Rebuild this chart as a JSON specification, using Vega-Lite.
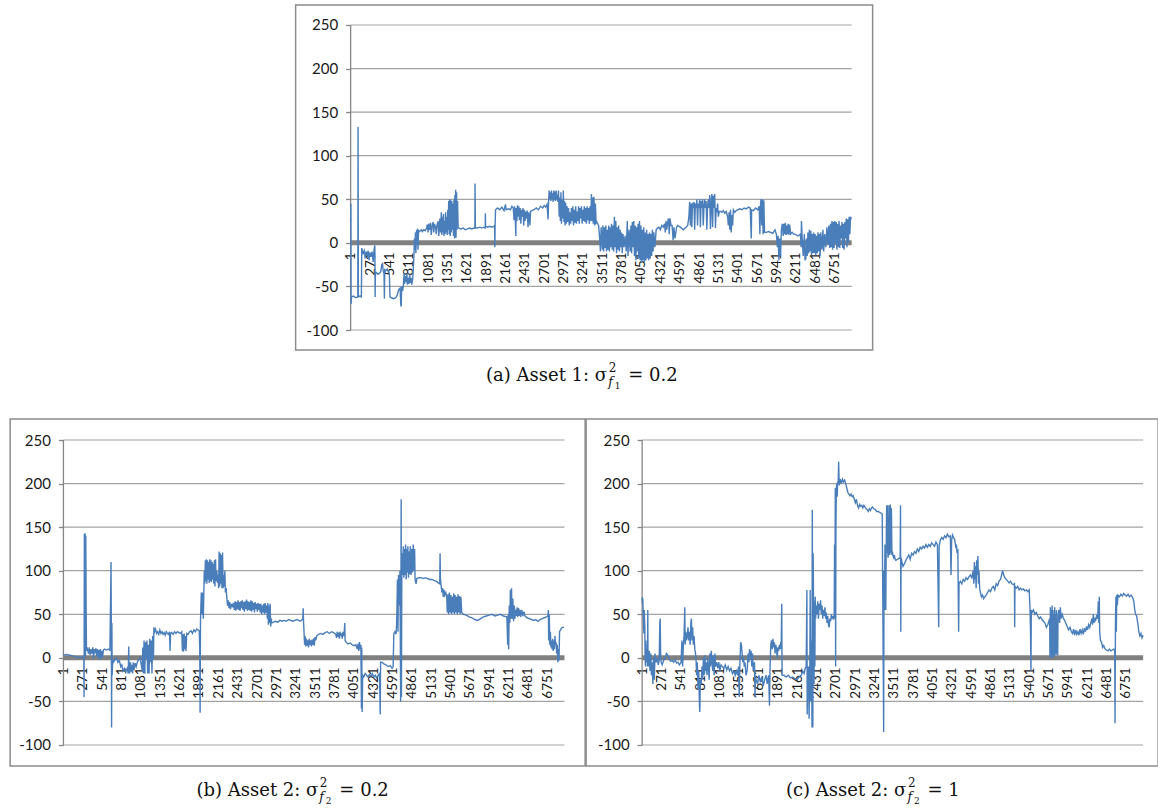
{
"$schema": "https://vega.github.io/schema/vega-lite/v6.json",
"background": "#ffffff",
"padding": {"left": 9, "top": 4, "right": 0, "bottom": 0},
"config": {"view": {"stroke": "#8c8c8c", "strokeWidth": 1.5}, "axis": {"labelOverlap": false, "labelFlush": false, "labelBound": false}},
"spacing": 25,
"center": true,
"datasets": {
"grid": [{"g":-100},{"g":-50},{"g":0},{"g":50},{"g":100},{"g":150},{"g":200},{"g":250}],
"cap": [
{"panel":"a","lhs":"(a) Asset 1: σ","sup":"2","sub":"f","ss":"1","rhs":"= 0.2"},
{"panel":"b","lhs":"(b) Asset 2: σ","sup":"2","sub":"f","ss":"2","rhs":"= 0.2"},
{"panel":"c","lhs":"(c) Asset 2: σ","sup":"2","sub":"f","ss":"2","rhs":"= 1"}
],
"a": [
{"x":0,"y":24},{"x":3,"y":45},{"x":6,"y":-70},{"x":12,"y":-62},{"x":40,"y":-61},{"x":70,"y":-63},{"x":100,"y":-62},{"x":104,"y":133},{"x":108,"y":-62},{"x":130,"y":-61},{"x":150,"y":-62},{"x":155,"y":-6},{"x":175,"y":-12},{"x":190,"y":-9},{"x":205,"y":-18},{"x":215,"y":-10},{"x":230,"y":-14},{"x":245,"y":-9},{"x":258,"y":-20},{"x":270,"y":-11},{"x":285,"y":-16},{"x":300,"y":-10},{"x":315,"y":-22},{"x":326,"y":-8},{"x":338,"y":-3},{"x":342,"y":-62},{"x":346,"y":-35},{"x":360,"y":-34},{"x":380,"y":-36},{"x":400,"y":-35},{"x":420,"y":-33},{"x":435,"y":-25},{"x":445,"y":-24},{"x":455,"y":-33},{"x":466,"y":-35},{"x":471,"y":-64},{"x":476,"y":-31},{"x":490,"y":-32},{"x":510,"y":-30},{"x":525,"y":-33},{"x":540,"y":-35},{"x":549,"y":-62},{"x":570,"y":-63},{"x":600,"y":-64},{"x":630,"y":-63},{"x":650,"y":-60},{"x":670,"y":-54},{"x":690,"y":-52},{"x":700,"y":-71},{"x":706,"y":-73},{"x":712,"y":-50},{"x":725,"y":-55},{"x":735,"y":-50},{"x":746,"y":-35},{"x":752,"y":-47},{"x":765,"y":-38},{"x":772,"y":-45},{"x":785,"y":-35},{"x":792,"y":-48},{"x":805,"y":-40},{"x":812,"y":-47},{"x":825,"y":-36},{"x":832,"y":-46},{"x":845,"y":-40},{"x":852,"y":-48},{"x":865,"y":-42},{"x":875,"y":-30},{"x":885,"y":-10},{"x":890,"y":5},{"x":895,"y":-8},{"x":905,"y":12},{"x":910,"y":-12},{"x":920,"y":14},{"x":930,"y":15},{"x":940,"y":-8},{"x":948,"y":14},{"x":960,"y":13},{"x":975,"y":14},{"x":990,"y":15},{"x":1000,"y":13},{"x":1020,"y":15},{"x":1040,"y":14},{"x":1060,"y":17},{"x":1070,"y":21},{"x":1080,"y":12},{"x":1090,"y":22},{"x":1100,"y":15},{"x":1115,"y":23},{"x":1125,"y":9},{"x":1135,"y":18},{"x":1150,"y":24},{"x":1160,"y":12},{"x":1170,"y":22},{"x":1185,"y":18},{"x":1195,"y":10},{"x":1205,"y":20},{"x":1220,"y":25},{"x":1230,"y":8},{"x":1245,"y":28},{"x":1255,"y":12},{"x":1265,"y":35},{"x":1272,"y":9},{"x":1280,"y":30},{"x":1288,"y":12},{"x":1295,"y":33},{"x":1302,"y":8},{"x":1310,"y":25},{"x":1318,"y":10},{"x":1325,"y":35},{"x":1332,"y":12},{"x":1340,"y":30},{"x":1348,"y":9},{"x":1355,"y":38},{"x":1362,"y":15},{"x":1368,"y":48},{"x":1375,"y":10},{"x":1382,"y":50},{"x":1390,"y":8},{"x":1398,"y":49},{"x":1405,"y":12},{"x":1412,"y":48},{"x":1420,"y":15},{"x":1428,"y":45},{"x":1435,"y":8},{"x":1442,"y":50},{"x":1450,"y":5},{"x":1455,"y":55},{"x":1460,"y":20},{"x":1466,"y":61},{"x":1470,"y":6},{"x":1478,"y":58},{"x":1485,"y":15},{"x":1492,"y":48},{"x":1500,"y":18},{"x":1510,"y":17},{"x":1540,"y":16},{"x":1570,"y":17},{"x":1600,"y":15},{"x":1630,"y":16},{"x":1660,"y":17},{"x":1690,"y":16},{"x":1720,"y":17},{"x":1733,"y":17},{"x":1736,"y":68},{"x":1740,"y":17},{"x":1770,"y":17},{"x":1800,"y":18},{"x":1830,"y":17},{"x":1860,"y":18},{"x":1878,"y":17},{"x":1880,"y":34},{"x":1883,"y":19},{"x":1910,"y":18},{"x":1940,"y":19},{"x":1970,"y":18},{"x":2000,"y":19},{"x":2008,"y":20},{"x":2012,"y":-5},{"x":2016,"y":20},{"x":2022,"y":38},{"x":2050,"y":40},{"x":2080,"y":38},{"x":2110,"y":41},{"x":2140,"y":37},{"x":2160,"y":44},{"x":2170,"y":38},{"x":2200,"y":39},{"x":2230,"y":38},{"x":2250,"y":42},{"x":2269,"y":40},{"x":2280,"y":26},{"x":2288,"y":42},{"x":2296,"y":30},{"x":2305,"y":8},{"x":2310,"y":40},{"x":2320,"y":25},{"x":2328,"y":43},{"x":2338,"y":30},{"x":2346,"y":42},{"x":2355,"y":26},{"x":2365,"y":40},{"x":2375,"y":22},{"x":2385,"y":38},{"x":2395,"y":30},{"x":2405,"y":40},{"x":2415,"y":20},{"x":2424,"y":38},{"x":2435,"y":25},{"x":2445,"y":36},{"x":2455,"y":28},{"x":2465,"y":37},{"x":2475,"y":18},{"x":2485,"y":35},{"x":2495,"y":28},{"x":2502,"y":20},{"x":2510,"y":36},{"x":2528,"y":37},{"x":2560,"y":38},{"x":2590,"y":40},{"x":2620,"y":38},{"x":2650,"y":42},{"x":2680,"y":40},{"x":2700,"y":43},{"x":2720,"y":41},{"x":2740,"y":44},{"x":2755,"y":27},{"x":2761,"y":45},{"x":2770,"y":60},{"x":2778,"y":50},{"x":2786,"y":58},{"x":2794,"y":48},{"x":2802,"y":60},{"x":2810,"y":50},{"x":2818,"y":57},{"x":2826,"y":47},{"x":2835,"y":60},{"x":2843,"y":49},{"x":2851,"y":59},{"x":2860,"y":48},{"x":2868,"y":60},{"x":2876,"y":50},{"x":2884,"y":55},{"x":2892,"y":47},{"x":2900,"y":60},{"x":2910,"y":30},{"x":2918,"y":52},{"x":2926,"y":25},{"x":2934,"y":58},{"x":2942,"y":22},{"x":2950,"y":50},{"x":2960,"y":28},{"x":2968,"y":60},{"x":2976,"y":24},{"x":2984,"y":48},{"x":2992,"y":20},{"x":3000,"y":46},{"x":3010,"y":22},{"x":3020,"y":42},{"x":3030,"y":24},{"x":3040,"y":40},{"x":3050,"y":20},{"x":3060,"y":35},{"x":3070,"y":22},{"x":3080,"y":40},{"x":3090,"y":25},{"x":3100,"y":42},{"x":3110,"y":20},{"x":3120,"y":38},{"x":3130,"y":23},{"x":3140,"y":42},{"x":3150,"y":22},{"x":3160,"y":36},{"x":3170,"y":25},{"x":3180,"y":42},{"x":3190,"y":22},{"x":3200,"y":40},{"x":3210,"y":28},{"x":3220,"y":42},{"x":3230,"y":22},{"x":3240,"y":38},{"x":3250,"y":25},{"x":3260,"y":42},{"x":3270,"y":24},{"x":3280,"y":40},{"x":3290,"y":22},{"x":3300,"y":42},{"x":3310,"y":26},{"x":3320,"y":40},{"x":3330,"y":22},{"x":3340,"y":42},{"x":3350,"y":25},{"x":3360,"y":56},{"x":3368,"y":25},{"x":3376,"y":52},{"x":3385,"y":22},{"x":3395,"y":53},{"x":3405,"y":20},{"x":3415,"y":45},{"x":3425,"y":23},{"x":3435,"y":24},{"x":3445,"y":22},{"x":3460,"y":20},{"x":3475,"y":5},{"x":3485,"y":-10},{"x":3495,"y":18},{"x":3512,"y":-8},{"x":3520,"y":20},{"x":3530,"y":-10},{"x":3540,"y":18},{"x":3550,"y":-6},{"x":3560,"y":20},{"x":3570,"y":-10},{"x":3580,"y":15},{"x":3590,"y":-8},{"x":3600,"y":20},{"x":3610,"y":-10},{"x":3620,"y":18},{"x":3630,"y":-5},{"x":3640,"y":22},{"x":3650,"y":-8},{"x":3660,"y":20},{"x":3670,"y":-10},{"x":3680,"y":30},{"x":3690,"y":-5},{"x":3700,"y":25},{"x":3710,"y":-12},{"x":3720,"y":18},{"x":3730,"y":-8},{"x":3740,"y":20},{"x":3750,"y":-10},{"x":3760,"y":15},{"x":3770,"y":-5},{"x":3780,"y":12},{"x":3790,"y":-12},{"x":3800,"y":10},{"x":3815,"y":-5},{"x":3830,"y":8},{"x":3845,"y":-10},{"x":3860,"y":25},{"x":3870,"y":-15},{"x":3885,"y":15},{"x":3900,"y":-10},{"x":3910,"y":20},{"x":3920,"y":-12},{"x":3930,"y":24},{"x":3940,"y":-5},{"x":3950,"y":25},{"x":3960,"y":-15},{"x":3970,"y":20},{"x":3980,"y":-20},{"x":3990,"y":18},{"x":4000,"y":-10},{"x":4010,"y":22},{"x":4020,"y":-18},{"x":4030,"y":25},{"x":4040,"y":-20},{"x":4050,"y":20},{"x":4060,"y":-22},{"x":4070,"y":15},{"x":4080,"y":-20},{"x":4090,"y":18},{"x":4100,"y":-22},{"x":4110,"y":12},{"x":4120,"y":-20},{"x":4130,"y":15},{"x":4140,"y":-18},{"x":4150,"y":10},{"x":4160,"y":-20},{"x":4170,"y":12},{"x":4180,"y":-18},{"x":4190,"y":10},{"x":4200,"y":-15},{"x":4210,"y":15},{"x":4220,"y":-10},{"x":4230,"y":12},{"x":4245,"y":-5},{"x":4263,"y":15},{"x":4280,"y":17},{"x":4300,"y":18},{"x":4320,"y":15},{"x":4340,"y":20},{"x":4360,"y":18},{"x":4380,"y":22},{"x":4390,"y":12},{"x":4400,"y":25},{"x":4410,"y":15},{"x":4420,"y":22},{"x":4435,"y":28},{"x":4445,"y":10},{"x":4455,"y":28},{"x":4470,"y":20},{"x":4485,"y":20},{"x":4500,"y":3},{"x":4510,"y":18},{"x":4525,"y":5},{"x":4548,"y":18},{"x":4560,"y":20},{"x":4600,"y":18},{"x":4640,"y":15},{"x":4680,"y":18},{"x":4703,"y":20},{"x":4720,"y":30},{"x":4730,"y":47},{"x":4740,"y":20},{"x":4750,"y":45},{"x":4760,"y":18},{"x":4770,"y":46},{"x":4780,"y":40},{"x":4790,"y":47},{"x":4800,"y":15},{"x":4810,"y":45},{"x":4820,"y":40},{"x":4830,"y":50},{"x":4840,"y":20},{"x":4850,"y":45},{"x":4860,"y":40},{"x":4870,"y":50},{"x":4880,"y":18},{"x":4890,"y":48},{"x":4900,"y":40},{"x":4910,"y":50},{"x":4920,"y":20},{"x":4930,"y":42},{"x":4940,"y":50},{"x":4950,"y":40},{"x":4960,"y":48},{"x":4970,"y":15},{"x":4980,"y":42},{"x":4990,"y":50},{"x":5000,"y":40},{"x":5010,"y":55},{"x":5020,"y":16},{"x":5030,"y":45},{"x":5040,"y":56},{"x":5050,"y":18},{"x":5060,"y":54},{"x":5070,"y":40},{"x":5080,"y":56},{"x":5090,"y":17},{"x":5100,"y":40},{"x":5110,"y":35},{"x":5120,"y":45},{"x":5130,"y":30},{"x":5144,"y":36},{"x":5160,"y":36},{"x":5180,"y":35},{"x":5200,"y":37},{"x":5220,"y":34},{"x":5240,"y":36},{"x":5260,"y":30},{"x":5270,"y":20},{"x":5280,"y":35},{"x":5290,"y":15},{"x":5300,"y":38},{"x":5310,"y":12},{"x":5320,"y":32},{"x":5330,"y":20},{"x":5340,"y":38},{"x":5360,"y":35},{"x":5380,"y":37},{"x":5403,"y":38},{"x":5430,"y":39},{"x":5460,"y":38},{"x":5490,"y":40},{"x":5520,"y":39},{"x":5550,"y":41},{"x":5575,"y":40},{"x":5590,"y":5},{"x":5595,"y":38},{"x":5620,"y":37},{"x":5650,"y":40},{"x":5680,"y":38},{"x":5700,"y":42},{"x":5710,"y":10},{"x":5715,"y":40},{"x":5725,"y":50},{"x":5735,"y":20},{"x":5745,"y":50},{"x":5755,"y":10},{"x":5765,"y":49},{"x":5775,"y":12},{"x":5800,"y":12},{"x":5830,"y":13},{"x":5860,"y":12},{"x":5890,"y":11},{"x":5920,"y":15},{"x":5940,"y":10},{"x":5955,"y":-5},{"x":5965,"y":8},{"x":5975,"y":-20},{"x":5985,"y":5},{"x":5998,"y":-15},{"x":6010,"y":15},{"x":6024,"y":22},{"x":6035,"y":8},{"x":6045,"y":22},{"x":6055,"y":10},{"x":6065,"y":23},{"x":6075,"y":9},{"x":6085,"y":20},{"x":6095,"y":10},{"x":6105,"y":22},{"x":6115,"y":9},{"x":6125,"y":21},{"x":6140,"y":10},{"x":6160,"y":12},{"x":6180,"y":10},{"x":6200,"y":10},{"x":6220,"y":9},{"x":6240,"y":8},{"x":6260,"y":9},{"x":6275,"y":10},{"x":6285,"y":-5},{"x":6290,"y":25},{"x":6300,"y":5},{"x":6315,"y":-15},{"x":6330,"y":10},{"x":6340,"y":-20},{"x":6351,"y":-18},{"x":6360,"y":5},{"x":6370,"y":-15},{"x":6380,"y":12},{"x":6390,"y":-12},{"x":6400,"y":15},{"x":6410,"y":-10},{"x":6420,"y":14},{"x":6430,"y":-14},{"x":6440,"y":10},{"x":6450,"y":-12},{"x":6460,"y":12},{"x":6470,"y":-12},{"x":6480,"y":10},{"x":6490,"y":-14},{"x":6500,"y":8},{"x":6510,"y":-12},{"x":6520,"y":12},{"x":6530,"y":-10},{"x":6540,"y":10},{"x":6550,"y":-15},{"x":6560,"y":12},{"x":6575,"y":-8},{"x":6590,"y":15},{"x":6600,"y":-10},{"x":6615,"y":10},{"x":6630,"y":-5},{"x":6645,"y":18},{"x":6660,"y":-2},{"x":6672,"y":20},{"x":6685,"y":-6},{"x":6695,"y":22},{"x":6705,"y":-5},{"x":6715,"y":25},{"x":6725,"y":-8},{"x":6735,"y":24},{"x":6745,"y":-6},{"x":6755,"y":25},{"x":6765,"y":0},{"x":6775,"y":24},{"x":6785,"y":-8},{"x":6795,"y":22},{"x":6805,"y":-5},{"x":6815,"y":25},{"x":6825,"y":-6},{"x":6835,"y":20},{"x":6845,"y":5},{"x":6855,"y":24},{"x":6865,"y":-6},{"x":6875,"y":22},{"x":6885,"y":-8},{"x":6895,"y":24},{"x":6905,"y":5},{"x":6915,"y":28},{"x":6925,"y":-5},{"x":6935,"y":27},{"x":6945,"y":0},{"x":6955,"y":30},{"x":6965,"y":10},{"x":6975,"y":30},{"x":6985,"y":27}
],
"b": [
{"x":0,"y":3},{"x":40,"y":4},{"x":90,"y":3},{"x":140,"y":2},{"x":190,"y":1},{"x":240,"y":0},{"x":285,"y":1},{"x":288,"y":-45},{"x":292,"y":142},{"x":298,"y":85},{"x":303,"y":143},{"x":308,"y":2},{"x":312,"y":140},{"x":318,"y":40},{"x":322,"y":8},{"x":330,"y":12},{"x":350,"y":5},{"x":360,"y":12},{"x":372,"y":3},{"x":385,"y":10},{"x":397,"y":5},{"x":410,"y":12},{"x":420,"y":0},{"x":430,"y":10},{"x":440,"y":5},{"x":452,"y":11},{"x":465,"y":2},{"x":475,"y":10},{"x":485,"y":0},{"x":495,"y":9},{"x":505,"y":-2},{"x":515,"y":10},{"x":525,"y":0},{"x":535,"y":8},{"x":545,"y":0},{"x":558,"y":9},{"x":575,"y":10},{"x":600,"y":9},{"x":625,"y":10},{"x":640,"y":10},{"x":648,"y":8},{"x":660,"y":80},{"x":664,"y":110},{"x":668,"y":40},{"x":672,"y":-80},{"x":676,"y":40},{"x":680,"y":-20},{"x":688,"y":-2},{"x":698,"y":-5},{"x":720,"y":-2},{"x":740,"y":0},{"x":760,"y":-5},{"x":780,"y":-3},{"x":800,"y":-10},{"x":815,"y":-8},{"x":830,"y":-15},{"x":850,"y":-12},{"x":870,"y":-16},{"x":890,"y":-12},{"x":905,"y":-18},{"x":911,"y":13},{"x":915,"y":-10},{"x":925,"y":-18},{"x":935,"y":-5},{"x":945,"y":-16},{"x":955,"y":-8},{"x":965,"y":-18},{"x":975,"y":-5},{"x":985,"y":-14},{"x":1000,"y":-6},{"x":1015,"y":-10},{"x":1030,"y":-5},{"x":1050,"y":-2},{"x":1070,"y":0},{"x":1100,"y":-15},{"x":1107,"y":12},{"x":1115,"y":-18},{"x":1125,"y":20},{"x":1135,"y":-18},{"x":1145,"y":18},{"x":1155,"y":0},{"x":1165,"y":20},{"x":1175,"y":-18},{"x":1185,"y":15},{"x":1195,"y":-18},{"x":1205,"y":22},{"x":1215,"y":-5},{"x":1225,"y":20},{"x":1235,"y":-18},{"x":1245,"y":25},{"x":1256,"y":-2},{"x":1262,"y":35},{"x":1272,"y":30},{"x":1285,"y":33},{"x":1300,"y":28},{"x":1315,"y":30},{"x":1330,"y":27},{"x":1345,"y":32},{"x":1360,"y":28},{"x":1375,"y":30},{"x":1390,"y":27},{"x":1405,"y":29},{"x":1420,"y":26},{"x":1435,"y":30},{"x":1450,"y":28},{"x":1465,"y":27},{"x":1480,"y":30},{"x":1488,"y":8},{"x":1495,"y":28},{"x":1510,"y":29},{"x":1530,"y":27},{"x":1550,"y":30},{"x":1570,"y":28},{"x":1590,"y":30},{"x":1610,"y":29},{"x":1630,"y":28},{"x":1651,"y":30},{"x":1660,"y":8},{"x":1668,"y":27},{"x":1676,"y":7},{"x":1684,"y":28},{"x":1692,"y":10},{"x":1700,"y":25},{"x":1710,"y":8},{"x":1721,"y":28},{"x":1740,"y":27},{"x":1760,"y":30},{"x":1780,"y":31},{"x":1800,"y":28},{"x":1820,"y":32},{"x":1840,"y":30},{"x":1860,"y":33},{"x":1880,"y":32},{"x":1895,"y":31},{"x":1902,"y":10},{"x":1907,"y":-63},{"x":1912,"y":40},{"x":1918,"y":60},{"x":1924,"y":75},{"x":1930,"y":50},{"x":1938,"y":75},{"x":1945,"y":55},{"x":1952,"y":45},{"x":1958,"y":70},{"x":1965,"y":100},{"x":1972,"y":85},{"x":1980,"y":112},{"x":1988,"y":88},{"x":1995,"y":113},{"x":2002,"y":85},{"x":2010,"y":112},{"x":2018,"y":90},{"x":2026,"y":110},{"x":2034,"y":86},{"x":2042,"y":113},{"x":2050,"y":88},{"x":2058,"y":112},{"x":2066,"y":87},{"x":2074,"y":110},{"x":2082,"y":90},{"x":2090,"y":108},{"x":2098,"y":85},{"x":2106,"y":112},{"x":2114,"y":82},{"x":2122,"y":113},{"x":2130,"y":88},{"x":2140,"y":100},{"x":2150,"y":86},{"x":2160,"y":95},{"x":2165,"y":80},{"x":2172,"y":122},{"x":2180,"y":82},{"x":2188,"y":120},{"x":2196,"y":85},{"x":2204,"y":118},{"x":2212,"y":80},{"x":2220,"y":121},{"x":2228,"y":80},{"x":2236,"y":95},{"x":2244,"y":82},{"x":2252,"y":100},{"x":2260,"y":75},{"x":2270,"y":80},{"x":2279,"y":70},{"x":2290,"y":60},{"x":2300,"y":66},{"x":2310,"y":57},{"x":2320,"y":64},{"x":2330,"y":56},{"x":2345,"y":62},{"x":2360,"y":58},{"x":2372,"y":63},{"x":2385,"y":55},{"x":2395,"y":65},{"x":2405,"y":54},{"x":2415,"y":64},{"x":2425,"y":56},{"x":2435,"y":66},{"x":2445,"y":55},{"x":2455,"y":64},{"x":2465,"y":54},{"x":2475,"y":65},{"x":2485,"y":57},{"x":2495,"y":66},{"x":2505,"y":55},{"x":2515,"y":64},{"x":2525,"y":53},{"x":2535,"y":65},{"x":2545,"y":56},{"x":2555,"y":67},{"x":2565,"y":54},{"x":2575,"y":65},{"x":2585,"y":55},{"x":2595,"y":64},{"x":2605,"y":54},{"x":2615,"y":66},{"x":2625,"y":53},{"x":2635,"y":65},{"x":2645,"y":55},{"x":2655,"y":63},{"x":2665,"y":52},{"x":2675,"y":64},{"x":2685,"y":56},{"x":2695,"y":62},{"x":2705,"y":53},{"x":2715,"y":63},{"x":2725,"y":55},{"x":2735,"y":62},{"x":2745,"y":52},{"x":2755,"y":62},{"x":2765,"y":50},{"x":2775,"y":60},{"x":2785,"y":52},{"x":2795,"y":62},{"x":2805,"y":50},{"x":2815,"y":63},{"x":2825,"y":52},{"x":2837,"y":60},{"x":2845,"y":45},{"x":2852,"y":63},{"x":2860,"y":38},{"x":2868,"y":60},{"x":2876,"y":40},{"x":2884,"y":62},{"x":2892,"y":36},{"x":2900,"y":45},{"x":2906,"y":40},{"x":2930,"y":41},{"x":2960,"y":42},{"x":2990,"y":41},{"x":3020,"y":43},{"x":3050,"y":42},{"x":3080,"y":43},{"x":3110,"y":42},{"x":3140,"y":44},{"x":3170,"y":43},{"x":3200,"y":42},{"x":3230,"y":43},{"x":3260,"y":44},{"x":3301,"y":42},{"x":3320,"y":43},{"x":3340,"y":45},{"x":3345,"y":57},{"x":3350,"y":42},{"x":3365,"y":15},{"x":3372,"y":25},{"x":3380,"y":13},{"x":3390,"y":22},{"x":3400,"y":14},{"x":3410,"y":20},{"x":3420,"y":12},{"x":3430,"y":22},{"x":3440,"y":15},{"x":3450,"y":20},{"x":3460,"y":13},{"x":3470,"y":21},{"x":3480,"y":15},{"x":3490,"y":22},{"x":3500,"y":14},{"x":3510,"y":24},{"x":3520,"y":20},{"x":3534,"y":25},{"x":3560,"y":27},{"x":3590,"y":28},{"x":3620,"y":27},{"x":3650,"y":29},{"x":3680,"y":30},{"x":3710,"y":28},{"x":3740,"y":30},{"x":3770,"y":29},{"x":3800,"y":27},{"x":3810,"y":23},{"x":3820,"y":30},{"x":3830,"y":24},{"x":3840,"y":29},{"x":3850,"y":22},{"x":3860,"y":30},{"x":3870,"y":25},{"x":3880,"y":28},{"x":3890,"y":22},{"x":3900,"y":30},{"x":3915,"y":25},{"x":3925,"y":40},{"x":3930,"y":20},{"x":3945,"y":18},{"x":3970,"y":16},{"x":4000,"y":17},{"x":4030,"y":15},{"x":4060,"y":14},{"x":4080,"y":15},{"x":4100,"y":10},{"x":4110,"y":16},{"x":4120,"y":8},{"x":4130,"y":18},{"x":4140,"y":10},{"x":4150,"y":15},{"x":4158,"y":-58},{"x":4162,"y":12},{"x":4168,"y":-62},{"x":4175,"y":-20},{"x":4190,"y":-22},{"x":4210,"y":-18},{"x":4230,"y":-20},{"x":4250,"y":-22},{"x":4270,"y":-19},{"x":4290,"y":-21},{"x":4310,"y":-18},{"x":4330,"y":-22},{"x":4350,"y":-20},{"x":4370,"y":-23},{"x":4390,"y":-20},{"x":4410,"y":-18},{"x":4420,"y":-65},{"x":4425,"y":-5},{"x":4445,"y":-5},{"x":4470,"y":-7},{"x":4500,"y":-8},{"x":4530,"y":-10},{"x":4560,"y":-9},{"x":4585,"y":-12},{"x":4600,"y":-10},{"x":4610,"y":28},{"x":4625,"y":30},{"x":4640,"y":27},{"x":4650,"y":40},{"x":4660,"y":90},{"x":4668,"y":30},{"x":4675,"y":95},{"x":4685,"y":60},{"x":4695,"y":100},{"x":4705,"y":-50},{"x":4712,"y":182},{"x":4716,"y":-45},{"x":4722,"y":120},{"x":4734,"y":95},{"x":4742,"y":128},{"x":4750,"y":92},{"x":4758,"y":125},{"x":4766,"y":95},{"x":4774,"y":130},{"x":4782,"y":90},{"x":4790,"y":125},{"x":4798,"y":98},{"x":4806,"y":128},{"x":4814,"y":92},{"x":4822,"y":122},{"x":4830,"y":96},{"x":4840,"y":128},{"x":4850,"y":95},{"x":4860,"y":125},{"x":4870,"y":98},{"x":4880,"y":130},{"x":4890,"y":100},{"x":4900,"y":125},{"x":4906,"y":90},{"x":4920,"y":85},{"x":4930,"y":91},{"x":4960,"y":92},{"x":4990,"y":92},{"x":5020,"y":91},{"x":5050,"y":92},{"x":5080,"y":91},{"x":5110,"y":90},{"x":5140,"y":90},{"x":5170,"y":89},{"x":5200,"y":88},{"x":5230,"y":86},{"x":5250,"y":85},{"x":5255,"y":120},{"x":5260,"y":90},{"x":5280,"y":75},{"x":5290,"y":80},{"x":5300,"y":70},{"x":5310,"y":78},{"x":5320,"y":72},{"x":5335,"y":75},{"x":5348,"y":70},{"x":5355,"y":52},{"x":5365,"y":73},{"x":5375,"y":50},{"x":5385,"y":75},{"x":5395,"y":52},{"x":5405,"y":72},{"x":5415,"y":50},{"x":5425,"y":70},{"x":5435,"y":52},{"x":5445,"y":74},{"x":5455,"y":50},{"x":5465,"y":72},{"x":5475,"y":52},{"x":5485,"y":70},{"x":5495,"y":50},{"x":5505,"y":73},{"x":5515,"y":52},{"x":5525,"y":71},{"x":5535,"y":50},{"x":5545,"y":70},{"x":5557,"y":52},{"x":5580,"y":50},{"x":5620,"y":49},{"x":5660,"y":47},{"x":5700,"y":46},{"x":5740,"y":44},{"x":5780,"y":43},{"x":5820,"y":45},{"x":5860,"y":47},{"x":5900,"y":48},{"x":5940,"y":49},{"x":5980,"y":50},{"x":6020,"y":48},{"x":6060,"y":49},{"x":6100,"y":50},{"x":6140,"y":48},{"x":6185,"y":47},{"x":6190,"y":40},{"x":6198,"y":15},{"x":6205,"y":50},{"x":6212,"y":10},{"x":6220,"y":60},{"x":6228,"y":40},{"x":6236,"y":78},{"x":6244,"y":45},{"x":6252,"y":80},{"x":6260,"y":45},{"x":6270,"y":68},{"x":6280,"y":42},{"x":6290,"y":60},{"x":6300,"y":45},{"x":6310,"y":55},{"x":6320,"y":48},{"x":6330,"y":58},{"x":6340,"y":47},{"x":6350,"y":57},{"x":6360,"y":48},{"x":6370,"y":55},{"x":6380,"y":47},{"x":6395,"y":55},{"x":6410,"y":48},{"x":6425,"y":53},{"x":6440,"y":48},{"x":6470,"y":46},{"x":6500,"y":45},{"x":6530,"y":44},{"x":6560,"y":43},{"x":6590,"y":44},{"x":6620,"y":42},{"x":6650,"y":44},{"x":6680,"y":45},{"x":6710,"y":46},{"x":6740,"y":47},{"x":6760,"y":48},{"x":6766,"y":55},{"x":6770,"y":20},{"x":6778,"y":50},{"x":6786,"y":15},{"x":6794,"y":30},{"x":6802,"y":12},{"x":6810,"y":20},{"x":6818,"y":10},{"x":6826,"y":22},{"x":6834,"y":8},{"x":6842,"y":20},{"x":6850,"y":10},{"x":6858,"y":25},{"x":6866,"y":15},{"x":6874,"y":18},{"x":6882,"y":5},{"x":6890,"y":15},{"x":6898,"y":-5},{"x":6906,"y":10},{"x":6914,"y":-3},{"x":6922,"y":30},{"x":6940,"y":33},{"x":6960,"y":35},{"x":6984,"y":35}
],
"c": [
{"x":0,"y":70},{"x":5,"y":62},{"x":10,"y":68},{"x":15,"y":50},{"x":20,"y":40},{"x":25,"y":28},{"x":30,"y":55},{"x":33,"y":45},{"x":38,"y":35},{"x":42,"y":0},{"x":47,"y":-10},{"x":52,"y":20},{"x":58,"y":5},{"x":64,"y":-5},{"x":70,"y":10},{"x":75,"y":-10},{"x":79,"y":55},{"x":82,"y":0},{"x":90,"y":-10},{"x":100,"y":8},{"x":110,"y":-15},{"x":120,"y":5},{"x":130,"y":-20},{"x":140,"y":-5},{"x":150,"y":-30},{"x":160,"y":0},{"x":170,"y":-25},{"x":180,"y":5},{"x":195,"y":-5},{"x":210,"y":0},{"x":225,"y":-8},{"x":238,"y":-3},{"x":247,"y":40},{"x":252,"y":45},{"x":258,"y":5},{"x":265,"y":-5},{"x":280,"y":-8},{"x":300,"y":-3},{"x":320,"y":0},{"x":340,"y":5},{"x":360,"y":3},{"x":380,"y":-2},{"x":400,"y":-4},{"x":420,"y":-3},{"x":440,"y":-5},{"x":460,"y":-2},{"x":480,"y":-6},{"x":500,"y":-5},{"x":520,"y":-8},{"x":544,"y":-5},{"x":555,"y":20},{"x":565,"y":-10},{"x":575,"y":15},{"x":585,"y":25},{"x":590,"y":40},{"x":595,"y":58},{"x":600,"y":15},{"x":610,"y":30},{"x":620,"y":20},{"x":630,"y":25},{"x":640,"y":35},{"x":650,"y":20},{"x":660,"y":30},{"x":670,"y":15},{"x":680,"y":40},{"x":688,"y":45},{"x":695,"y":20},{"x":705,"y":35},{"x":715,"y":15},{"x":725,"y":25},{"x":735,"y":10},{"x":745,"y":5},{"x":754,"y":-5},{"x":760,"y":-20},{"x":770,"y":-5},{"x":780,"y":-35},{"x":790,"y":-15},{"x":800,"y":-55},{"x":805,"y":-62},{"x":812,"y":-25},{"x":824,"y":-30},{"x":835,"y":-10},{"x":845,"y":-25},{"x":855,"y":0},{"x":865,"y":-20},{"x":875,"y":3},{"x":885,"y":-15},{"x":895,"y":-5},{"x":905,"y":-20},{"x":915,"y":0},{"x":925,"y":-10},{"x":935,"y":-25},{"x":945,"y":5},{"x":955,"y":-10},{"x":965,"y":8},{"x":975,"y":-5},{"x":985,"y":-15},{"x":995,"y":3},{"x":1005,"y":-20},{"x":1015,"y":5},{"x":1025,"y":-10},{"x":1040,"y":-5},{"x":1056,"y":-12},{"x":1070,"y":-5},{"x":1085,"y":-15},{"x":1100,"y":-8},{"x":1120,"y":-10},{"x":1140,"y":-12},{"x":1160,"y":-8},{"x":1180,"y":-14},{"x":1200,"y":-10},{"x":1220,"y":-15},{"x":1240,"y":-12},{"x":1260,"y":-18},{"x":1280,"y":-15},{"x":1300,"y":-20},{"x":1320,"y":-15},{"x":1335,"y":-20},{"x":1345,"y":-10},{"x":1355,"y":-45},{"x":1365,"y":-5},{"x":1375,"y":18},{"x":1385,"y":15},{"x":1395,"y":5},{"x":1405,"y":-5},{"x":1415,"y":0},{"x":1425,"y":-10},{"x":1435,"y":-5},{"x":1450,"y":-20},{"x":1465,"y":-15},{"x":1480,"y":5},{"x":1490,"y":-5},{"x":1500,"y":10},{"x":1510,"y":0},{"x":1520,"y":8},{"x":1530,"y":-10},{"x":1540,"y":5},{"x":1550,"y":-15},{"x":1560,"y":-10},{"x":1568,"y":-5},{"x":1575,"y":-45},{"x":1582,"y":-20},{"x":1591,"y":-25},{"x":1610,"y":-30},{"x":1630,"y":-20},{"x":1650,"y":-28},{"x":1670,"y":-22},{"x":1690,"y":-32},{"x":1710,"y":-25},{"x":1730,"y":-20},{"x":1745,"y":-30},{"x":1754,"y":-25},{"x":1765,"y":-20},{"x":1777,"y":-55},{"x":1785,"y":-10},{"x":1795,"y":15},{"x":1805,"y":20},{"x":1815,"y":10},{"x":1825,"y":22},{"x":1835,"y":12},{"x":1845,"y":18},{"x":1855,"y":5},{"x":1865,"y":15},{"x":1875,"y":10},{"x":1885,"y":0},{"x":1895,"y":12},{"x":1905,"y":8},{"x":1915,"y":15},{"x":1925,"y":10},{"x":1935,"y":18},{"x":1940,"y":10},{"x":1948,"y":62},{"x":1953,"y":-20},{"x":1980,"y":-20},{"x":2010,"y":-22},{"x":2040,"y":-20},{"x":2070,"y":-23},{"x":2100,"y":-22},{"x":2130,"y":-24},{"x":2160,"y":-25},{"x":2190,"y":-22},{"x":2220,"y":-20},{"x":2240,"y":-15},{"x":2260,"y":-18},{"x":2275,"y":-12},{"x":2289,"y":-10},{"x":2299,"y":78},{"x":2303,"y":-65},{"x":2310,"y":-20},{"x":2320,"y":-10},{"x":2330,"y":-70},{"x":2335,"y":-30},{"x":2340,"y":-10},{"x":2345,"y":78},{"x":2352,"y":-50},{"x":2358,"y":0},{"x":2365,"y":20},{"x":2370,"y":-80},{"x":2374,"y":170},{"x":2378,"y":40},{"x":2382,"y":-80},{"x":2386,"y":120},{"x":2392,"y":60},{"x":2398,"y":-30},{"x":2405,"y":65},{"x":2410,"y":-10},{"x":2415,"y":70},{"x":2420,"y":45},{"x":2430,"y":60},{"x":2440,"y":50},{"x":2450,"y":65},{"x":2460,"y":45},{"x":2470,"y":62},{"x":2480,"y":55},{"x":2490,"y":66},{"x":2500,"y":50},{"x":2510,"y":60},{"x":2520,"y":45},{"x":2530,"y":55},{"x":2540,"y":48},{"x":2550,"y":58},{"x":2560,"y":45},{"x":2570,"y":52},{"x":2580,"y":40},{"x":2590,"y":48},{"x":2600,"y":38},{"x":2610,"y":35},{"x":2620,"y":45},{"x":2630,"y":42},{"x":2640,"y":50},{"x":2650,"y":45},{"x":2660,"y":48},{"x":2670,"y":44},{"x":2680,"y":50},{"x":2685,"y":130},{"x":2690,"y":45},{"x":2695,"y":195},{"x":2700,"y":-10},{"x":2704,"y":150},{"x":2710,"y":195},{"x":2716,"y":200},{"x":2722,"y":185},{"x":2728,"y":202},{"x":2735,"y":200},{"x":2742,"y":225},{"x":2750,"y":198},{"x":2765,"y":205},{"x":2780,"y":200},{"x":2795,"y":205},{"x":2810,"y":202},{"x":2825,"y":204},{"x":2840,"y":200},{"x":2855,"y":195},{"x":2870,"y":190},{"x":2885,"y":188},{"x":2900,"y":186},{"x":2915,"y":188},{"x":2930,"y":185},{"x":2945,"y":186},{"x":2960,"y":182},{"x":2975,"y":178},{"x":2990,"y":182},{"x":3005,"y":175},{"x":3020,"y":172},{"x":3035,"y":176},{"x":3050,"y":174},{"x":3065,"y":175},{"x":3080,"y":172},{"x":3095,"y":175},{"x":3110,"y":173},{"x":3125,"y":171},{"x":3140,"y":170},{"x":3155,"y":168},{"x":3170,"y":171},{"x":3185,"y":169},{"x":3200,"y":172},{"x":3215,"y":173},{"x":3235,"y":171},{"x":3255,"y":170},{"x":3275,"y":168},{"x":3295,"y":168},{"x":3315,"y":167},{"x":3335,"y":166},{"x":3350,"y":165},{"x":3360,"y":40},{"x":3370,"y":-85},{"x":3375,"y":100},{"x":3382,"y":55},{"x":3388,"y":130},{"x":3395,"y":105},{"x":3400,"y":55},{"x":3405,"y":120},{"x":3412,"y":175},{"x":3418,"y":120},{"x":3425,"y":175},{"x":3430,"y":115},{"x":3440,"y":120},{"x":3448,"y":175},{"x":3455,"y":118},{"x":3462,"y":176},{"x":3470,"y":120},{"x":3478,"y":172},{"x":3485,"y":118},{"x":3492,"y":122},{"x":3500,"y":117},{"x":3510,"y":115},{"x":3520,"y":118},{"x":3530,"y":113},{"x":3540,"y":112},{"x":3600,"y":115},{"x":3605,"y":175},{"x":3609,"y":30},{"x":3613,"y":115},{"x":3625,"y":110},{"x":3640,"y":105},{"x":3660,"y":108},{"x":3680,"y":112},{"x":3700,"y":115},{"x":3720,"y":118},{"x":3740,"y":113},{"x":3760,"y":120},{"x":3780,"y":118},{"x":3800,"y":122},{"x":3820,"y":120},{"x":3840,"y":125},{"x":3860,"y":122},{"x":3880,"y":127},{"x":3900,"y":125},{"x":3920,"y":128},{"x":3940,"y":126},{"x":3960,"y":130},{"x":3980,"y":127},{"x":4000,"y":130},{"x":4020,"y":128},{"x":4040,"y":132},{"x":4060,"y":130},{"x":4080,"y":128},{"x":4100,"y":133},{"x":4120,"y":130},{"x":4138,"y":35},{"x":4144,"y":128},{"x":4160,"y":135},{"x":4180,"y":138},{"x":4200,"y":136},{"x":4220,"y":140},{"x":4240,"y":138},{"x":4260,"y":142},{"x":4280,"y":139},{"x":4300,"y":140},{"x":4310,"y":95},{"x":4318,"y":135},{"x":4330,"y":141},{"x":4345,"y":138},{"x":4360,"y":136},{"x":4375,"y":128},{"x":4385,"y":130},{"x":4395,"y":120},{"x":4405,"y":125},{"x":4416,"y":30},{"x":4422,"y":85},{"x":4440,"y":88},{"x":4460,"y":85},{"x":4480,"y":90},{"x":4500,"y":88},{"x":4520,"y":92},{"x":4540,"y":90},{"x":4560,"y":93},{"x":4580,"y":95},{"x":4600,"y":92},{"x":4620,"y":100},{"x":4628,"y":85},{"x":4636,"y":110},{"x":4644,"y":90},{"x":4652,"y":105},{"x":4660,"y":80},{"x":4668,"y":112},{"x":4676,"y":95},{"x":4685,"y":117},{"x":4692,"y":85},{"x":4700,"y":100},{"x":4709,"y":80},{"x":4720,"y":75},{"x":4735,"y":70},{"x":4750,"y":72},{"x":4765,"y":68},{"x":4780,"y":70},{"x":4800,"y":72},{"x":4820,"y":75},{"x":4840,"y":78},{"x":4860,"y":76},{"x":4880,"y":80},{"x":4900,"y":82},{"x":4920,"y":78},{"x":4940,"y":85},{"x":4960,"y":83},{"x":4980,"y":88},{"x":5000,"y":90},{"x":5015,"y":95},{"x":5030,"y":100},{"x":5045,"y":95},{"x":5060,"y":92},{"x":5080,"y":90},{"x":5100,"y":88},{"x":5120,"y":86},{"x":5140,"y":88},{"x":5160,"y":85},{"x":5180,"y":84},{"x":5195,"y":85},{"x":5198,"y":35},{"x":5202,"y":82},{"x":5220,"y":80},{"x":5240,"y":82},{"x":5260,"y":78},{"x":5280,"y":80},{"x":5300,"y":78},{"x":5320,"y":79},{"x":5340,"y":77},{"x":5360,"y":78},{"x":5380,"y":76},{"x":5400,"y":78},{"x":5410,"y":60},{"x":5418,"y":35},{"x":5425,"y":-15},{"x":5430,"y":55},{"x":5440,"y":52},{"x":5460,"y":55},{"x":5480,"y":50},{"x":5500,"y":52},{"x":5520,"y":48},{"x":5540,"y":45},{"x":5560,"y":47},{"x":5580,"y":44},{"x":5600,"y":42},{"x":5620,"y":40},{"x":5640,"y":35},{"x":5660,"y":38},{"x":5686,"y":45},{"x":5690,"y":0},{"x":5696,"y":58},{"x":5702,"y":2},{"x":5708,"y":55},{"x":5714,"y":0},{"x":5720,"y":60},{"x":5726,"y":3},{"x":5732,"y":55},{"x":5738,"y":0},{"x":5744,"y":50},{"x":5750,"y":2},{"x":5756,"y":58},{"x":5762,"y":5},{"x":5768,"y":50},{"x":5774,"y":3},{"x":5780,"y":55},{"x":5786,"y":5},{"x":5792,"y":45},{"x":5798,"y":3},{"x":5803,"y":50},{"x":5815,"y":55},{"x":5825,"y":40},{"x":5835,"y":58},{"x":5845,"y":45},{"x":5860,"y":50},{"x":5880,"y":45},{"x":5900,"y":42},{"x":5920,"y":38},{"x":5935,"y":35},{"x":5950,"y":32},{"x":5970,"y":35},{"x":5989,"y":30},{"x":6005,"y":28},{"x":6020,"y":33},{"x":6035,"y":26},{"x":6050,"y":32},{"x":6065,"y":27},{"x":6080,"y":30},{"x":6095,"y":26},{"x":6110,"y":33},{"x":6125,"y":28},{"x":6140,"y":32},{"x":6155,"y":27},{"x":6170,"y":34},{"x":6185,"y":30},{"x":6200,"y":36},{"x":6215,"y":32},{"x":6230,"y":38},{"x":6245,"y":35},{"x":6260,"y":40},{"x":6275,"y":45},{"x":6285,"y":38},{"x":6295,"y":50},{"x":6305,"y":40},{"x":6315,"y":46},{"x":6325,"y":42},{"x":6340,"y":48},{"x":6355,"y":45},{"x":6365,"y":65},{"x":6372,"y":40},{"x":6378,"y":70},{"x":6384,"y":30},{"x":6395,"y":20},{"x":6410,"y":18},{"x":6425,"y":12},{"x":6440,"y":14},{"x":6460,"y":10},{"x":6480,"y":9},{"x":6500,"y":8},{"x":6520,"y":10},{"x":6540,"y":8},{"x":6560,"y":9},{"x":6580,"y":10},{"x":6594,"y":9},{"x":6598,"y":-75},{"x":6604,"y":40},{"x":6610,"y":70},{"x":6616,"y":30},{"x":6622,"y":72},{"x":6630,"y":60},{"x":6640,"y":72},{"x":6660,"y":70},{"x":6680,"y":73},{"x":6700,"y":71},{"x":6720,"y":74},{"x":6740,"y":72},{"x":6760,"y":71},{"x":6780,"y":73},{"x":6800,"y":70},{"x":6820,"y":72},{"x":6840,"y":70},{"x":6860,"y":65},{"x":6873,"y":55},{"x":6885,"y":50},{"x":6900,"y":48},{"x":6915,"y":40},{"x":6930,"y":30},{"x":6945,"y":25},{"x":6960,"y":28},{"x":6975,"y":23},{"x":6989,"y":26}
]
},
"vconcat": [
{
"width": 577, "height": 345,
"layer": [
{"data": {"name": "a"}, "mark": {"type": "line", "color": "#4a7ebb", "strokeWidth": 1.4, "opacity": 0},
 "encoding": {
  "x": {"field": "x", "type": "quantitative", "scale": {"domain": [-767.4, 7282.9], "nice": false, "zero": false},
   "axis": {"orient": "bottom", "offset": -107.14, "values": [1,271,541,811,1081,1351,1621,1891,2161,2431,2701,2971,3241,3511,3781,4051,4321,4591,4861,5131,5401,5671,5941,6211,6481,6751], "tickCount": 60, "labelExpr": "'' + datum.value", "domain": false, "grid": false, "ticks": false, "tickSize": 0, "labelAngle": 270, "labelFont": "Lato", "labelFontSize": 13.5, "labelColor": "#1a1a1a", "labelPadding": 9, "labelFlush": false, "labelOverlap": false, "title": null}},
  "y": {"field": "y", "type": "quantitative", "scale": {"domain": [-122.95, 272.95], "nice": false, "zero": false},
   "axis": {"orient": "left", "offset": -55, "values": [-100,-50,0,50,100,150,200,250], "tickCount": 20, "labelExpr": "'' + datum.value", "domain": false, "grid": false, "ticks": true, "tickSize": 5, "tickColor": "#868686", "tickWidth": 1.3, "labelFont": "Lato", "labelFontSize": 15, "labelColor": "#1a1a1a", "labelPadding": 8, "title": null}}}},
{"data": {"name": "grid"}, "mark": {"type": "rule", "color": "#a3a3a3", "strokeWidth": 1.2},
 "encoding": {"x": {"datum": 0, "type": "quantitative", "axis": {"title": null}}, "x2": {"datum": 6990},
  "y": {"field": "g", "type": "quantitative", "axis": {"title": null}}}},
{"data": {"values": [{}]}, "mark": {"type": "rule", "color": "#868686", "strokeWidth": 1.3},
 "encoding": {"x": {"datum": 0, "type": "quantitative", "axis": {"title": null}},
  "y": {"datum": -100, "type": "quantitative", "axis": {"title": null}}, "y2": {"datum": 250}}},
{"data": {"values": [{}]}, "mark": {"type": "rule", "color": "#808080", "strokeWidth": 5},
 "encoding": {"x": {"datum": 0, "type": "quantitative", "axis": {"title": null}}, "x2": {"datum": 6990},
  "y": {"datum": 0, "type": "quantitative", "axis": {"title": null}}}},
{"data": {"name": "a"}, "mark": {"type": "line", "color": "#4a7ebb", "strokeWidth": 1.4},
 "encoding": {"x": {"field": "x", "type": "quantitative", "axis": {"title": null}}, "y": {"field": "y", "type": "quantitative", "axis": {"title": null}}, "order": {"value": null}}},
{"data": {"name": "cap"}, "transform": [{"filter": "datum.panel == 'a'"}],
 "encoding": {"x": {"datum": 3579, "type": "quantitative", "axis": {"title": null}},
  "y": {"datum": -159, "type": "quantitative", "axis": {"title": null}}},
 "layer": [
  {"mark": {"type": "text", "font": "DejaVu Serif", "fontSize": 18, "align": "right", "baseline": "alphabetic", "color": "#111111"}, "encoding": {"text": {"field": "lhs"}}},
  {"mark": {"type": "text", "font": "DejaVu Serif", "fontSize": 12, "align": "left", "baseline": "alphabetic", "dx": 1.5, "dy": -9, "color": "#111111"}, "encoding": {"text": {"field": "sup"}}},
  {"mark": {"type": "text", "font": "DejaVu Serif", "fontSize": 12.5, "fontStyle": "italic", "align": "left", "baseline": "alphabetic", "dx": 1, "dy": 5, "color": "#111111"}, "encoding": {"text": {"field": "sub"}}},
  {"mark": {"type": "text", "font": "DejaVu Serif", "fontSize": 9, "align": "left", "baseline": "alphabetic", "dx": 7.5, "dy": 8, "color": "#111111"}, "encoding": {"text": {"field": "ss"}}},
  {"mark": {"type": "text", "font": "DejaVu Serif", "fontSize": 18, "align": "left", "baseline": "alphabetic", "dx": 21, "color": "#111111"}, "encoding": {"text": {"field": "rhs"}}}
 ]}
]
},
{
"spacing": -2,
"hconcat": [
{
"width": 575, "height": 347,
"layer": [
{"data": {"name": "b"}, "mark": {"type": "line", "color": "#4a7ebb", "strokeWidth": 1.4, "opacity": 0},
 "encoding": {
  "x": {"field": "x", "type": "quantitative", "scale": {"domain": [-743.7, 7278.7], "nice": false, "zero": false},
   "axis": {"orient": "bottom", "offset": -108.14, "values": [1,271,541,811,1081,1351,1621,1891,2161,2431,2701,2971,3241,3511,3781,4051,4321,4591,4861,5131,5401,5671,5941,6211,6481,6751], "tickCount": 60, "labelExpr": "'' + datum.value", "domain": false, "grid": false, "ticks": false, "tickSize": 0, "labelAngle": 270, "labelFont": "Lato", "labelFontSize": 13.5, "labelColor": "#1a1a1a", "labelPadding": 9, "labelFlush": false, "labelOverlap": false, "title": null}},
  "y": {"field": "y", "type": "quantitative", "scale": {"domain": [-124.1, 274.1], "nice": false, "zero": false},
   "axis": {"orient": "left", "offset": -53.3, "values": [-100,-50,0,50,100,150,200,250], "tickCount": 20, "labelExpr": "'' + datum.value", "domain": false, "grid": false, "ticks": true, "tickSize": 5, "tickColor": "#868686", "tickWidth": 1.3, "labelFont": "Lato", "labelFontSize": 15, "labelColor": "#1a1a1a", "labelPadding": 8, "title": null}}}},
{"data": {"name": "grid"}, "mark": {"type": "rule", "color": "#a3a3a3", "strokeWidth": 1.2},
 "encoding": {"x": {"datum": 0, "type": "quantitative", "axis": {"title": null}}, "x2": {"datum": 6990},
  "y": {"field": "g", "type": "quantitative", "axis": {"title": null}}}},
{"data": {"values": [{}]}, "mark": {"type": "rule", "color": "#868686", "strokeWidth": 1.3},
 "encoding": {"x": {"datum": 0, "type": "quantitative", "axis": {"title": null}},
  "y": {"datum": -100, "type": "quantitative", "axis": {"title": null}}, "y2": {"datum": 250}}},
{"data": {"values": [{}]}, "mark": {"type": "rule", "color": "#808080", "strokeWidth": 5},
 "encoding": {"x": {"datum": 0, "type": "quantitative", "axis": {"title": null}}, "x2": {"datum": 6990},
  "y": {"datum": 0, "type": "quantitative", "axis": {"title": null}}}},
{"data": {"name": "b"}, "mark": {"type": "line", "color": "#4a7ebb", "strokeWidth": 1.4},
 "encoding": {"x": {"field": "x", "type": "quantitative", "axis": {"title": null}}, "y": {"field": "y", "type": "quantitative", "axis": {"title": null}}, "order": {"value": null}}},
{"data": {"name": "cap"}, "transform": [{"filter": "datum.panel == 'b'"}],
 "encoding": {"x": {"datum": 3557, "type": "quantitative", "axis": {"title": null}},
  "y": {"datum": -158.5, "type": "quantitative", "axis": {"title": null}}},
 "layer": [
  {"mark": {"type": "text", "font": "DejaVu Serif", "fontSize": 18, "align": "right", "baseline": "alphabetic", "color": "#111111"}, "encoding": {"text": {"field": "lhs"}}},
  {"mark": {"type": "text", "font": "DejaVu Serif", "fontSize": 12, "align": "left", "baseline": "alphabetic", "dx": 1.5, "dy": -9, "color": "#111111"}, "encoding": {"text": {"field": "sup"}}},
  {"mark": {"type": "text", "font": "DejaVu Serif", "fontSize": 12.5, "fontStyle": "italic", "align": "left", "baseline": "alphabetic", "dx": 1, "dy": 5, "color": "#111111"}, "encoding": {"text": {"field": "sub"}}},
  {"mark": {"type": "text", "font": "DejaVu Serif", "fontSize": 9, "align": "left", "baseline": "alphabetic", "dx": 7.5, "dy": 8, "color": "#111111"}, "encoding": {"text": {"field": "ss"}}},
  {"mark": {"type": "text", "font": "DejaVu Serif", "fontSize": 18, "align": "left", "baseline": "alphabetic", "dx": 21, "color": "#111111"}, "encoding": {"text": {"field": "rhs"}}}
 ]}
]
},
{
"width": 572, "height": 347,
"layer": [
{"data": {"name": "c"}, "mark": {"type": "line", "color": "#4a7ebb", "strokeWidth": 1.4, "opacity": 0},
 "encoding": {
  "x": {"field": "x", "type": "quantitative", "scale": {"domain": [-781.3, 7199.3], "nice": false, "zero": false},
   "axis": {"orient": "bottom", "offset": -108.14, "values": [1,271,541,811,1081,1351,1621,1891,2161,2431,2701,2971,3241,3511,3781,4051,4321,4591,4861,5131,5401,5671,5941,6211,6481,6751], "tickCount": 60, "labelExpr": "'' + datum.value", "domain": false, "grid": false, "ticks": false, "tickSize": 0, "labelAngle": 270, "labelFont": "Lato", "labelFontSize": 13.5, "labelColor": "#1a1a1a", "labelPadding": 9, "labelFlush": false, "labelOverlap": false, "title": null}},
  "y": {"field": "y", "type": "quantitative", "scale": {"domain": [-124.1, 274.1], "nice": false, "zero": false},
   "axis": {"orient": "left", "offset": -56, "values": [-100,-50,0,50,100,150,200,250], "tickCount": 20, "labelExpr": "'' + datum.value", "domain": false, "grid": false, "ticks": true, "tickSize": 5, "tickColor": "#868686", "tickWidth": 1.3, "labelFont": "Lato", "labelFontSize": 15, "labelColor": "#1a1a1a", "labelPadding": 8, "title": null}}}},
{"data": {"name": "grid"}, "mark": {"type": "rule", "color": "#a3a3a3", "strokeWidth": 1.2},
 "encoding": {"x": {"datum": 0, "type": "quantitative", "axis": {"title": null}}, "x2": {"datum": 6990},
  "y": {"field": "g", "type": "quantitative", "axis": {"title": null}}}},
{"data": {"values": [{}]}, "mark": {"type": "rule", "color": "#868686", "strokeWidth": 1.3},
 "encoding": {"x": {"datum": 0, "type": "quantitative", "axis": {"title": null}},
  "y": {"datum": -100, "type": "quantitative", "axis": {"title": null}}, "y2": {"datum": 250}}},
{"data": {"values": [{}]}, "mark": {"type": "rule", "color": "#808080", "strokeWidth": 5},
 "encoding": {"x": {"datum": 0, "type": "quantitative", "axis": {"title": null}}, "x2": {"datum": 6990},
  "y": {"datum": 0, "type": "quantitative", "axis": {"title": null}}}},
{"data": {"name": "c"}, "mark": {"type": "line", "color": "#4a7ebb", "strokeWidth": 1.4},
 "encoding": {"x": {"field": "x", "type": "quantitative", "axis": {"title": null}}, "y": {"field": "y", "type": "quantitative", "axis": {"title": null}}, "order": {"value": null}}},
{"data": {"name": "cap"}, "transform": [{"filter": "datum.panel == 'c'"}],
 "encoding": {"x": {"datum": 3687, "type": "quantitative", "axis": {"title": null}},
  "y": {"datum": -158.5, "type": "quantitative", "axis": {"title": null}}},
 "layer": [
  {"mark": {"type": "text", "font": "DejaVu Serif", "fontSize": 18, "align": "right", "baseline": "alphabetic", "color": "#111111"}, "encoding": {"text": {"field": "lhs"}}},
  {"mark": {"type": "text", "font": "DejaVu Serif", "fontSize": 12, "align": "left", "baseline": "alphabetic", "dx": 1.5, "dy": -9, "color": "#111111"}, "encoding": {"text": {"field": "sup"}}},
  {"mark": {"type": "text", "font": "DejaVu Serif", "fontSize": 12.5, "fontStyle": "italic", "align": "left", "baseline": "alphabetic", "dx": 1, "dy": 5, "color": "#111111"}, "encoding": {"text": {"field": "sub"}}},
  {"mark": {"type": "text", "font": "DejaVu Serif", "fontSize": 9, "align": "left", "baseline": "alphabetic", "dx": 7.5, "dy": 8, "color": "#111111"}, "encoding": {"text": {"field": "ss"}}},
  {"mark": {"type": "text", "font": "DejaVu Serif", "fontSize": 18, "align": "left", "baseline": "alphabetic", "dx": 21, "color": "#111111"}, "encoding": {"text": {"field": "rhs"}}}
 ]}
]
}
]
}
]
}
